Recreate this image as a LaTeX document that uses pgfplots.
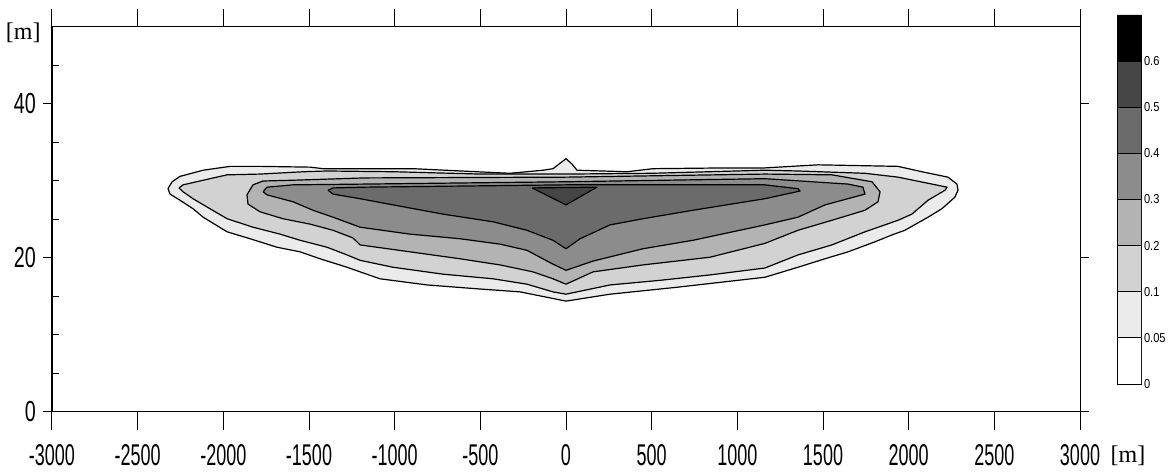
\documentclass[border=0pt]{standalone}
\usepackage{fontspec}
\setmainfont{Liberation Sans}
\newfontfamily\narrowfont[FakeStretch=0.6]{Liberation Sans}
\newfontfamily\ynarrowfont[FakeStretch=0.68]{Liberation Sans}
\newfontfamily\cbfont[FakeStretch=0.85]{Liberation Sans}
\newfontfamily\unitfont{Liberation Serif}
\usepackage{pgfplots}
\pgfplotsset{compat=1.18}

\definecolor{lv1}{HTML}{EBEBEB}
\definecolor{lv2}{HTML}{D2D2D2}
\definecolor{lv3}{HTML}{B3B3B3}
\definecolor{lv4}{HTML}{8C8C8C}
\definecolor{lv5}{HTML}{6B6B6B}
\definecolor{lv6}{HTML}{454545}

\pgfplotsset{
  frame/.style={
    width=514pt, height=192.5pt, scale only axis,
    xmin=-3000, xmax=3000, ymin=0, ymax=50,
    axis line style={black, line width=0.5pt},
    every tick/.style={black, line width=0.5pt},
  },
  iso/.style={draw=black, line width=0.6pt, line join=round},
}

\begin{document}
\begin{tikzpicture}
% contour bands, outer to inner
\begin{axis}[frame,
    xtick={-3000,-2500,...,3000},
    xticklabels={-3000,-2500,-2000,-1500,-1000,-500,0,500,1000,1500,2000,2500,3000},
    xtick pos=both, ytick=\empty,
    tick align=outside, major tick length=9pt,
    xticklabel style={font=\narrowfont\fontsize{15}{15}\selectfont, yshift=-3.5pt},
    xlabel={[m]}, ylabel={[m]},
    xlabel style={at={(rel axis cs:1.0467,-0.114)}, anchor=center, font=\unitfont\fontsize{12}{12}\selectfont},
    ylabel style={at={(rel axis cs:-0.028,0.984)}, anchor=center, rotate=-90, font=\unitfont\fontsize{12}{12}\selectfont},
]
% 0.05
\addplot[iso, fill=lv1] coordinates {
(-2323,29.0) (-2299,29.9) (-2253,30.6) (-2118,31.4) (-1961,31.9) (-1786,31.9)
(-1494,31.8) (-1418,31.6) (-1027,31.6) (-893,31.6) (-519,31.2) (-327,31.0)
(-134,31.4) (-76,31.6) (-35,32.3) (0,32.9) (35,32.2) (64,31.4) (356,31.2)
(508,31.6) (940,31.7) (1161,31.7) (1471,32.1) (1938,31.9) (2078,31.2)
(2229,30.5) (2282,29.6) (2288,28.8) (2270,27.9) (2194,26.4) (2113,25.3)
(1978,23.6) (1903,23.0) (1803,22.1) (1646,20.8) (1512,19.9) (1354,18.8)
(1161,17.5) (648,16.2) (257,15.3) (0,14.4) (-111,14.9) (-268,15.6)
(-519,16.0) (-811,16.5) (-1086,17.3) (-1202,18.2) (-1278,18.8) (-1436,19.9)
(-1552,20.8) (-1687,21.4) (-1844,22.5) (-1978,23.4) (-2118,25.3) (-2177,26.4)
(-2253,27.5) (-2311,28.3) (-2323,29.0)};
% 0.1
\addplot[iso, fill=lv2] coordinates {
(-2259,29.1) (-2235,29.5) (-2078,30.3) (-1978,30.8) (-1786,30.9) (-1535,31.2)
(-1395,31.3) (-1000,31.2) (-500,30.9) (0,30.9) (500,31.0) (1161,31.4)
(1354,31.3) (1745,31.0) (1938,30.5) (2224,29.2) (2212,28.8) (2113,27.5)
(2019,25.7) (1938,24.9) (1745,23.4) (1552,21.7) (1354,20.4) (1161,18.7)
(840,17.8) (549,17.1) (257,16.5) (0,15.3) (-76,15.6) (-228,16.6) (-426,17.3)
(-718,17.9) (-1010,18.8) (-1202,19.7) (-1278,20.4) (-1395,21.4) (-1552,22.3)
(-1669,23.1) (-1827,24.0) (-1978,25.1) (-2078,26.4) (-2177,27.7) (-2235,28.6)
(-2259,29.1)};
% 0.2
\addplot[iso, fill=lv3] coordinates {
(-1862,28.2) (-1827,29.5) (-1768,30.0) (-1593,30.1) (-1173,30.4) (0,30.5)
(1161,30.9) (1552,30.8) (1786,29.9) (1833,28.6) (1821,27.3) (1745,26.2)
(1552,24.9) (1354,23.6) (1161,21.9) (840,20.1) (449,19.1) (158,18.2)
(0,16.6) (-76,17.3) (-193,18.2) (-385,19.1) (-619,19.9) (-910,20.8)
(-1202,21.7) (-1243,22.6) (-1360,23.6) (-1494,24.4) (-1652,25.1) (-1786,26.0)
(-1856,27.0) (-1862,28.2)};
% 0.3
\addplot[iso, fill=lv4] coordinates {
(-1768,28.6) (-1745,29.2) (-1593,29.5) (-1173,29.6) (0,29.9) (1161,30.3)
(1646,29.6) (1733,29.2) (1745,28.3) (1512,26.9) (1354,25.3) (1161,24.3)
(741,22.3) (449,21.2) (158,19.6) (0,18.4) (-76,19.2) (-228,21.0) (-385,21.8)
(-619,22.5) (-910,23.1) (-1202,24.0) (-1360,25.3) (-1477,26.2) (-1593,27.3)
(-1745,28.2) (-1768,28.6)};
% 0.4
\addplot[iso, fill=lv5] coordinates {
(-1389,28.8) (-1360,29.1) (-1173,29.2) (0,29.5) (1161,29.5) (1354,29.0)
(1366,28.7) (1161,27.7) (741,26.2) (449,25.1) (257,24.3) (82,22.5) (0,21.2)
(-76,22.3) (-228,23.6) (-426,24.7) (-718,25.7) (-1010,26.9) (-1202,27.7)
(-1360,28.3) (-1389,28.8)};
% 0.5
\addplot[iso, fill=lv6] coordinates {
(-198,29.1) (181,29.2) (0,26.9) (-198,29.1)};
\end{axis}

% major y ticks, both sides
\begin{axis}[frame,
    axis x line=none, axis y line=box,
    ytick={0,20,40}, yticklabels={0,20,40},
    tick align=outside, major tick length=4.5pt,
    yticklabel style={font=\ynarrowfont\fontsize{14.5}{14.5}\selectfont},
]
\end{axis}

% minor y ticks, left side only
\begin{axis}[frame,
    axis x line=none, axis y line*=left,
    ytick={5,10,15,25,30,35,45}, yticklabels={},
    tick align=inside, major tick length=3.5pt,
]
\end{axis}

% colour scale
\begin{axis}[
    at={(532.5pt,14pt)}, anchor=south west,
    width=12pt, height=184.5pt, scale only axis,
    xmin=0, xmax=1, ymin=0, ymax=8,
    xtick=\empty,
    ytick={0,1,2,3,4,5,6,7},
    yticklabels={0,0.05,0.1,0.2,0.3,0.4,0.5,0.6},
    ytick pos=right, major tick length=0pt,
    yticklabel style={font=\cbfont\fontsize{6.5}{6.5}\selectfont, anchor=west, xshift=-2pt},
    axis line style={black, line width=0.4pt},
]
\addplot[draw=black, line width=0.4pt, fill=white] coordinates {(0,0) (1,0) (1,1) (0,1) (0,0)};
\addplot[draw=black, line width=0.4pt, fill=lv1] coordinates {(0,1) (1,1) (1,2) (0,2) (0,1)};
\addplot[draw=black, line width=0.4pt, fill=lv2] coordinates {(0,2) (1,2) (1,3) (0,3) (0,2)};
\addplot[draw=black, line width=0.4pt, fill=lv3] coordinates {(0,3) (1,3) (1,4) (0,4) (0,3)};
\addplot[draw=black, line width=0.4pt, fill=lv4] coordinates {(0,4) (1,4) (1,5) (0,5) (0,4)};
\addplot[draw=black, line width=0.4pt, fill=lv5] coordinates {(0,5) (1,5) (1,6) (0,6) (0,5)};
\addplot[draw=black, line width=0.4pt, fill=lv6] coordinates {(0,6) (1,6) (1,7) (0,7) (0,6)};
\addplot[draw=black, line width=0.4pt, fill=black] coordinates {(0,7) (1,7) (1,8) (0,8) (0,7)};
\end{axis}

\pgfresetboundingbox
\path[use as bounding box] (-26pt,-31.5pt) rectangle (562pt,206pt);
\end{tikzpicture}
\end{document}
